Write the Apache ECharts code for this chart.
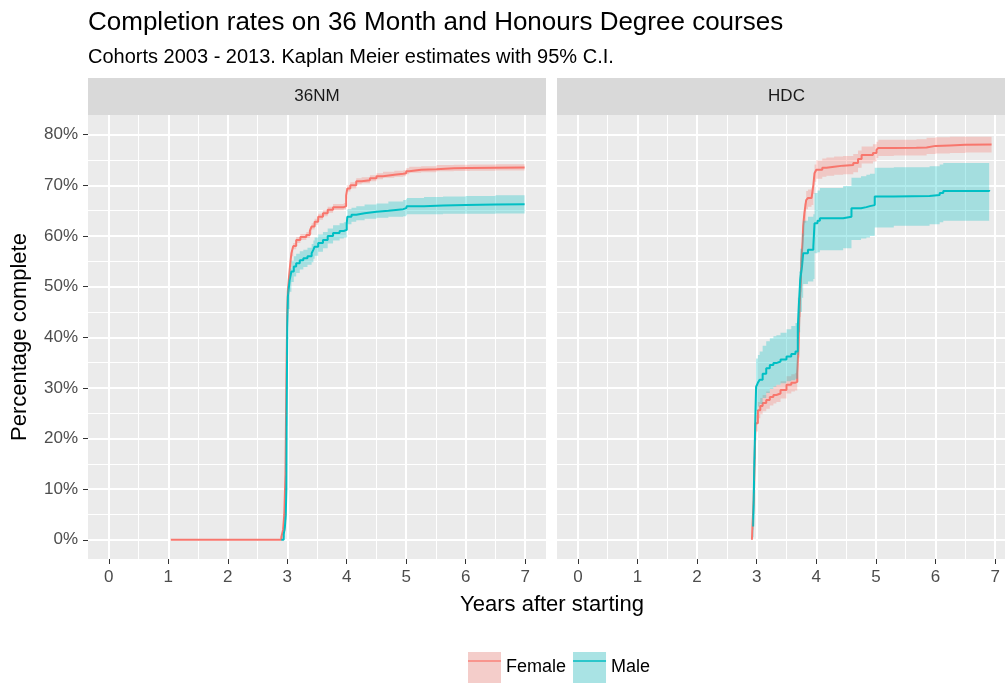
<!DOCTYPE html>
<html>
<head>
<meta charset="utf-8">
<title>Completion rates</title>
<script src="https://cdn.jsdelivr.net/npm/echarts@6.0.0/dist/echarts.min.js"></script>
<style>
  html, body { margin: 0; padding: 0; background: #fff; }
  #main { width: 1005px; height: 684px; }
</style>
</head>
<body>
<div id="main"></div>
<script>
// facet names
const facets = ['36NM', 'HDC'];
// axis ticks
const xTicks = [0, 1, 2, 3, 4, 5, 6, 7];
const xMinor = [0.5, 1.5, 2.5, 3.5, 4.5, 5.5, 6.5];
const yTicks = [0, 10, 20, 30, 40, 50, 60, 70, 80];
const yMinor = [5, 15, 25, 35, 45, 55, 65, 75];

// 36NM - Female
const nmFemaleT = [1.04, 2.90, 2.93, 2.95, 2.97, 2.98, 2.99, 3.00, 3.01, 3.03, 3.05, 3.07, 3.10, 3.15, 3.22, 3.32, 3.38, 3.41, 3.46, 3.52, 3.60, 3.68, 3.77, 3.95, 3.99, 4.01, 4.06, 4.16, 4.25, 4.39, 4.50, 4.61, 4.80, 4.95, 5.00, 5.05, 5.25, 5.51, 5.80, 6.07, 6.50, 6.99];
const nmFemaleEst = [0, 0.5, 2, 5, 13, 25, 36, 45, 49, 52, 54.5, 56.6, 58, 59.2, 59.8, 60.2, 61, 61.9, 62.8, 63.8, 64.5, 65.2, 65.7, 65.9, 68, 69.4, 70, 70.8, 71, 71.4, 71.8, 72.1, 72.3, 72.4, 72.8, 73.1, 73.2, 73.4, 73.45, 73.5, 73.55, 73.6];
const nmFemaleLo = [0, 0.3, 1.7, 4.6, 12.5, 24.4, 35.4, 44.4, 48.4, 51.4, 53.9, 56, 57.4, 58.6, 59.2, 59.6, 60.4, 61.3, 62.2, 63.2, 63.9, 64.6, 65.1, 65.3, 67.4, 68.8, 69.4, 70.2, 70.4, 70.8, 71.2, 71.5, 71.7, 71.8, 72.2, 72.5, 72.6, 72.8, 72.85, 72.9, 72.95, 73];
const nmFemaleHi = [0, 0.7, 2.3, 5.4, 13.5, 25.6, 36.6, 45.6, 49.6, 52.6, 55.1, 57.2, 58.6, 59.8, 60.4, 60.8, 61.6, 62.5, 63.4, 64.4, 65.1, 65.8, 66.3, 66.5, 68.6, 70, 70.6, 71.4, 71.6, 72, 72.4, 72.7, 72.9, 73, 73.4, 73.7, 73.8, 74, 74.05, 74.1, 74.15, 74.2];

// 36NM - Male
const nmMaleT = [2.90, 2.94, 2.96, 2.975, 2.985, 2.99, 3.00, 3.01, 3.04, 3.07, 3.11, 3.15, 3.21, 3.27, 3.34, 3.41, 3.44, 3.46, 3.52, 3.60, 3.68, 3.77, 3.88, 3.95, 4.00, 4.01, 4.08, 4.16, 4.30, 4.50, 4.70, 4.95, 5.00, 5.01, 5.30, 5.62, 6.00, 6.50, 6.99];
const nmMaleEst = [0, 1, 2.5, 4.9, 10, 25, 42, 48, 51.3, 53, 54, 54.6, 55.2, 55.6, 56, 56.6, 57.3, 57.9, 58.6, 59.2, 60, 60.6, 61, 61.2, 62.5, 63.8, 64.2, 64.5, 64.8, 65, 65.3, 65.5, 65.7, 65.9, 66, 66.1, 66.2, 66.25, 66.3];
const nmMaleLo = [0, 0.5, 1.8, 3.9, 8.5, 22.5, 39.5, 45.6, 49, 50.9, 52, 52.7, 53.4, 53.9, 54.3, 54.8, 55.5, 56.1, 56.9, 57.6, 58.5, 59.1, 59.5, 59.7, 61, 62.3, 62.8, 63.1, 63.4, 63.6, 63.8, 63.9, 64.1, 64.3, 64.3, 64.4, 64.4, 64.45, 64.5];
const nmMaleHi = [0, 1.5, 3.2, 5.9, 11.5, 27.5, 44.5, 50.4, 53.6, 55.1, 56, 56.5, 57, 57.3, 57.7, 58.4, 59.1, 59.7, 60.3, 60.8, 61.5, 62.1, 62.5, 62.7, 64, 65.3, 65.6, 65.9, 66.2, 66.4, 66.8, 67.1, 67.3, 67.5, 67.7, 67.8, 67.9, 68.05, 68.1];

// HDC - Female
const hdcFemaleT = [2.92, 2.93, 2.95, 2.96, 2.97, 2.98, 3.02, 3.06, 3.10, 3.16, 3.22, 3.28, 3.33, 3.40, 3.50, 3.58, 3.64, 3.68, 3.70, 3.72, 3.74, 3.75, 3.77, 3.78, 3.80, 3.83, 3.86, 3.92, 3.95, 3.97, 4.00, 4.10, 4.17, 4.30, 4.45, 4.62, 4.70, 4.76, 4.95, 5.01, 5.04, 5.30, 5.68, 5.85, 6.00, 6.24, 6.50, 6.94];
const hdcFemaleEst = [0, 3, 8, 13, 18, 23, 25.6, 26.4, 27, 27.6, 28.2, 28.6, 28.9, 29.6, 30.6, 31, 31.2, 32.9, 38, 46, 51, 55.3, 59, 62, 64.5, 67.1, 67.5, 67.8, 70, 72.4, 73.1, 73.5, 73.7, 73.9, 74, 74.4, 75.2, 76, 76.4, 77, 77.4, 77.45, 77.5, 77.8, 77.9, 78, 78.05, 78.1];
const hdcFemaleLo = [0, 2, 6.8, 11.6, 16.5, 21.4, 24, 24.8, 25.4, 25.9, 26.5, 26.9, 27.2, 27.9, 28.9, 29.3, 29.5, 31.1, 36, 44, 49, 53.3, 57, 60, 62.6, 65.3, 65.8, 66.1, 68.3, 70.7, 71.3, 71.7, 71.9, 72.1, 72.2, 72.6, 73.5, 74.3, 74.7, 75.4, 75.8, 75.9, 75.9, 76.2, 76.3, 76.4, 76.5, 76.6];
const hdcFemaleHi = [0, 4, 9.2, 14.4, 19.5, 24.6, 27.2, 28, 28.6, 29.3, 29.9, 30.3, 30.6, 31.3, 32.3, 32.7, 32.9, 34.7, 40, 48, 53, 57.3, 61, 64, 66.4, 68.9, 69.2, 69.5, 71.7, 74.1, 74.9, 75.3, 75.5, 75.7, 75.8, 76.2, 76.9, 77.7, 78.1, 78.6, 79, 79, 79.1, 79.4, 79.5, 79.6, 79.6, 79.6];

// HDC - Male
const hdcMaleT = [2.94, 2.95, 2.96, 2.97, 2.98, 2.99, 3.02, 3.05, 3.10, 3.16, 3.22, 3.28, 3.33, 3.40, 3.50, 3.58, 3.65, 3.69, 3.71, 3.73, 3.76, 3.78, 3.86, 3.95, 3.97, 4.02, 4.06, 4.45, 4.59, 4.75, 4.84, 4.90, 4.98, 5.30, 5.90, 6.07, 6.13, 6.90];
const hdcMaleEst = [2.6, 8, 15, 20, 25.6, 30.2, 31, 31.6, 32.8, 33.9, 34.5, 34.9, 35.2, 35.6, 36.2, 36.7, 37.2, 42.1, 47, 51.3, 54, 56.6, 57.3, 57.9, 62.5, 63, 63.5, 63.8, 65.5, 65.7, 65.9, 66.1, 67.8, 67.9, 68.1, 68.5, 68.9, 69.1];
const hdcMaleLo = [0.5, 5, 11, 16, 21, 25.5, 26.3, 26.8, 28, 29, 29.8, 30.2, 30.6, 30.9, 31.3, 31.5, 31.8, 36.5, 41, 45, 47.8, 50.5, 51, 51.5, 56.6, 56.8, 57.2, 57.6, 59.2, 59.5, 59.7, 60, 61.7, 62, 62.3, 62.7, 63, 63.2];
const hdcMaleHi = [5, 11, 19, 25, 30.5, 35.8, 36.5, 37.2, 38.3, 39.2, 39.8, 40.2, 40.4, 40.9, 41.6, 42.2, 42.8, 47.8, 53, 57.5, 60.5, 63, 63.8, 64.3, 68.5, 69, 69.5, 69.9, 71.5, 71.8, 72.1, 72.3, 73.5, 73.6, 73.8, 74.1, 74.4, 74.5];

const FEMALE = '#F8766D';
const MALE = '#00BFC4';
const FONT = '"Liberation Sans", Arial, sans-serif';

// panel layout
const panels = [
  { left: 88, width: 458 },
  { left: 557, width: 459 }
];
const PTOP = 115, PHEIGHT = 444, STRIP = 37;

function ribbon(ts, lo, hi) {
  return function (params, api) {
    const up = [], down = [];
    for (let i = 0; i < ts.length; i++) {
      const next = i + 1 < ts.length ? ts[i + 1] : ts[i];
      up.push(api.coord([ts[i], hi[i]]), api.coord([next, hi[i]]));
      down.push(api.coord([ts[i], lo[i]]), api.coord([next, lo[i]]));
    }
    return {
      type: 'polygon',
      shape: { points: up.concat(down.reverse()) },
      style: { fill: api.visual('color'), opacity: 0.3 }
    };
  };
}

function lineSeries(name, ts, est, color, axis) {
  return {
    name: name,
    type: 'line',
    step: 'end',
    xAxisIndex: axis, yAxisIndex: axis,
    data: ts.map((t, i) => [t, est[i]]),
    symbol: 'none',
    color: color,
    lineStyle: { color: color, width: 2 },
    z: 2,
    silent: true
  };
}

function bandSeries(name, ts, lo, hi, color, axis) {
  return {
    name: name,
    type: 'custom',
    xAxisIndex: axis, yAxisIndex: axis,
    data: [[ts[0], lo[0]]],
    color: color,
    itemStyle: { color: color },
    renderItem: ribbon(ts, lo, hi),
    z: 3,
    silent: true
  };
}

const xAxes = [], yAxes = [];
panels.forEach((p, i) => {
  xAxes.push({
    type: 'value', gridIndex: i, min: -0.35, max: 7.35, position: 'bottom',
    axisLine: { show: false, onZero: false },
    axisTick: { show: true, length: 5, customValues: xTicks, lineStyle: { color: '#333333', width: 1 } },
    axisLabel: { customValues: xTicks, color: '#4D4D4D', fontSize: 17, fontFamily: FONT, margin: 10 },
    splitLine: { show: true, lineStyle: { color: '#FFFFFF', width: 2 } }
  });
  xAxes.push({
    type: 'value', gridIndex: i, min: -0.35, max: 7.35, position: 'top',
    axisLine: { show: false, onZero: false },
    axisTick: { show: false, customValues: xMinor },
    axisLabel: { show: false },
    splitLine: { show: true, lineStyle: { color: '#FFFFFF', width: 1 } }
  });
  yAxes.push({
    type: 'value', gridIndex: i, min: -3.8, max: 83.9, position: 'left',
    axisLine: { show: false, onZero: false },
    axisTick: { show: i === 0, length: 5, customValues: yTicks, lineStyle: { color: '#333333', width: 1 } },
    axisLabel: { show: i === 0, customValues: yTicks, formatter: '{value}%', color: '#4D4D4D', fontSize: 17, fontFamily: FONT, margin: 10 },
    splitLine: { show: true, lineStyle: { color: '#FFFFFF', width: 2 } },
    name: i === 0 ? 'Percentage complete' : '',
    nameLocation: 'middle',
    nameGap: 57,
    nameTextStyle: { color: '#000000', fontSize: 22, fontFamily: FONT }
  });
  yAxes.push({
    type: 'value', gridIndex: i, min: -3.8, max: 83.9, position: 'right',
    axisLine: { show: false, onZero: false },
    axisTick: { show: false, customValues: yMinor },
    axisLabel: { show: false },
    splitLine: { show: true, lineStyle: { color: '#FFFFFF', width: 1 } }
  });
});

const graphics = [];
panels.forEach((p, i) => {
  graphics.push({
    type: 'rect', shape: { x: p.left, y: PTOP - STRIP, width: p.width, height: STRIP },
    style: { fill: '#D9D9D9' }, silent: true
  });
  graphics.push({
    type: 'text', x: p.left + p.width / 2, y: PTOP - STRIP / 2,
    style: { text: facets[i], fill: '#1A1A1A', font: '17px ' + FONT, textAlign: 'center', textVerticalAlign: 'middle' },
    silent: true
  });
});
graphics.push({
  type: 'text', x: (panels[0].left + panels[1].left + panels[1].width) / 2, y: 605,
  style: { text: 'Years after starting', fill: '#000000', font: '22px ' + FONT, textAlign: 'center', textVerticalAlign: 'middle' },
  silent: true
});

const option = {
  animation: false,
  backgroundColor: '#FFFFFF',
  title: [
    { text: 'Completion rates on 36 Month and Honours Degree courses', left: 88, top: 10, padding: 0,
      textStyle: { color: '#000000', fontSize: 26, fontWeight: 'normal', fontFamily: FONT, lineHeight: 26 } },
    { text: 'Cohorts 2003 - 2013. Kaplan Meier estimates with 95% C.I.', left: 88, top: 47, padding: 0,
      textStyle: { color: '#000000', fontSize: 20, fontWeight: 'normal', fontFamily: FONT, lineHeight: 20 } }
  ],
  grid: panels.map(p => ({
    left: p.left, top: PTOP, width: p.width, height: PHEIGHT,
    show: true, backgroundColor: '#EBEBEB', borderWidth: 0,
    containLabel: false, outerBoundsMode: 'none'
  })),
  xAxis: xAxes,
  yAxis: yAxes,
  legend: [
    {
      left: 468, top: 652, padding: 0, orient: 'horizontal',
      itemWidth: 33, itemHeight: 31, itemGap: 7,
      textStyle: { color: '#000000', fontSize: 18, fontFamily: FONT },
      data: [
        { name: 'Female', icon: 'rect', itemStyle: { color: '#F4CDCA', borderWidth: 0 } },
        { name: 'Male', icon: 'rect', itemStyle: { color: '#A9E3E4', borderWidth: 0 } }
      ]
    },
    {
      left: 468, top: 652, padding: 0, orient: 'horizontal',
      itemWidth: 33, itemHeight: 31, itemGap: 7,
      textStyle: { color: 'rgba(0,0,0,0)', fontSize: 18, fontFamily: FONT },
      data: [
        { name: 'Female', icon: 'path://M0,0H15V1H0Z', itemStyle: { color: '#F8958E', borderWidth: 0 } },
        { name: 'Male', icon: 'path://M0,0H15V1H0Z', itemStyle: { color: '#2CC6CA', borderWidth: 0 } }
      ]
    }
  ],
  graphic: graphics,
  series: [
    lineSeries('Female', nmFemaleT, nmFemaleEst, FEMALE, 0),
    lineSeries('Male', nmMaleT, nmMaleEst, MALE, 0),
    bandSeries('Female CI', nmFemaleT, nmFemaleLo, nmFemaleHi, FEMALE, 0),
    bandSeries('Male CI', nmMaleT, nmMaleLo, nmMaleHi, MALE, 0),
    lineSeries('Female', hdcFemaleT, hdcFemaleEst, FEMALE, 2),
    lineSeries('Male', hdcMaleT, hdcMaleEst, MALE, 2),
    bandSeries('Female CI', hdcFemaleT, hdcFemaleLo, hdcFemaleHi, FEMALE, 2),
    bandSeries('Male CI', hdcMaleT, hdcMaleLo, hdcMaleHi, MALE, 2)
  ]
};

const chart = echarts.init(document.getElementById('main'), null, { renderer: 'canvas' });
chart.setOption(option);
</script>
</body>
</html>
